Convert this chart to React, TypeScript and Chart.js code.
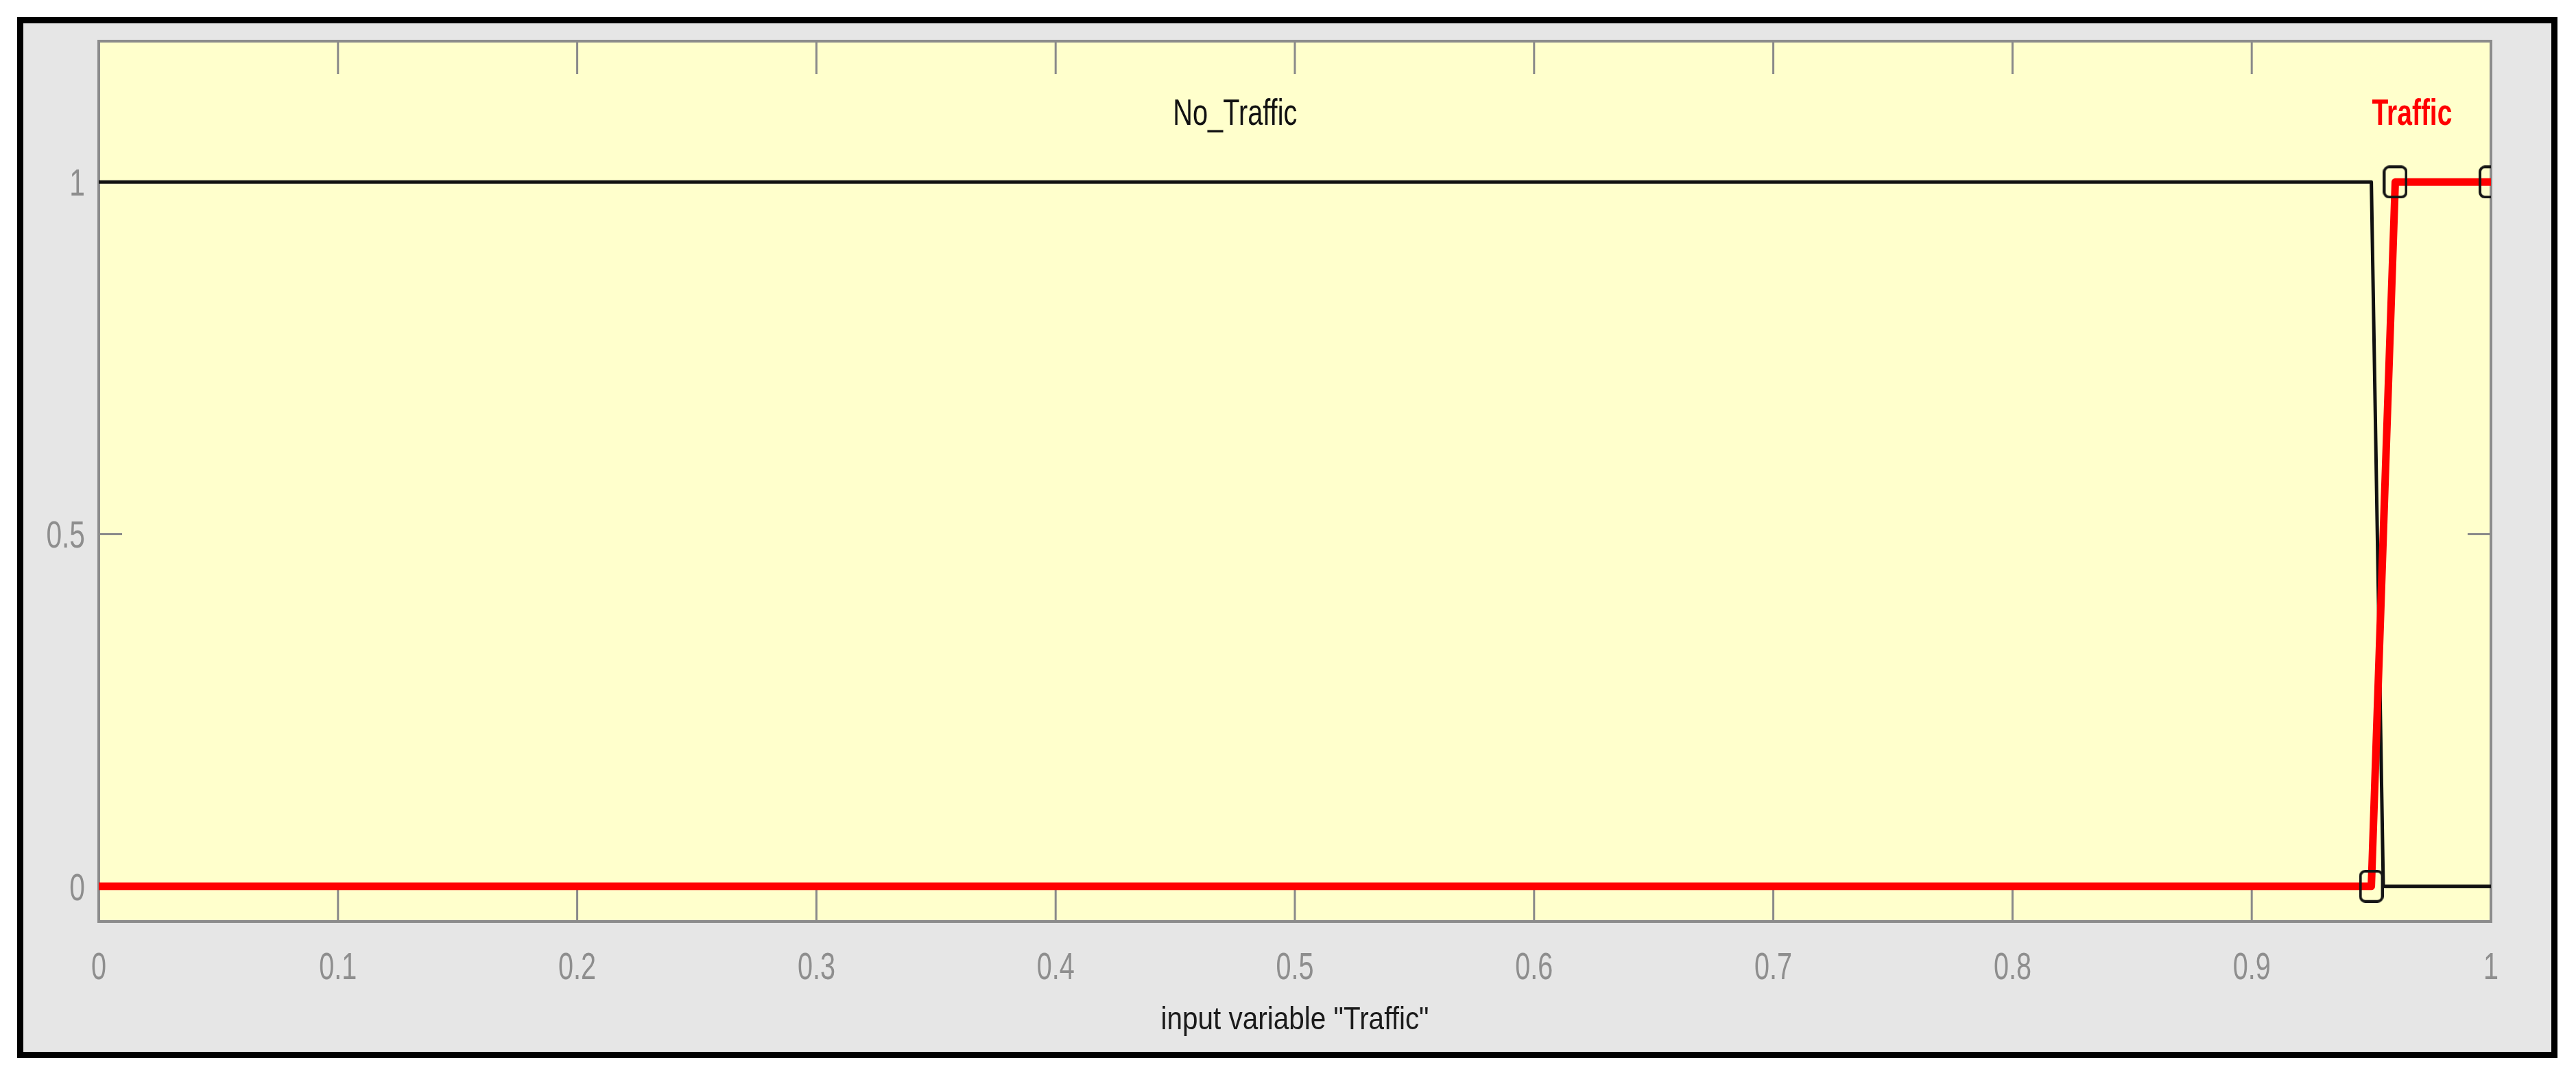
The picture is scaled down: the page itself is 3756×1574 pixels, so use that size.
import React, { useEffect, useRef } from "react";
import { Chart, registerables } from "chart.js";

Chart.register(...registerables);

// ---------- data ----------
const xTicks = [0, 0.1, 0.2, 0.3, 0.4, 0.5, 0.6, 0.7, 0.8, 0.9, 1];
const xTickLabels = ["0", "0.1", "0.2", "0.3", "0.4", "0.5", "0.6", "0.7", "0.8", "0.9", "1"];
const yTicks = [0, 0.5, 1];
const yTickLabels = ["0", "0.5", "1"];
const xRange = [0, 1];
const yRange = [-0.05, 1.2];

const noTrafficX = [0, 0.95, 0.955, 1];
const noTrafficY = [1, 1, 0, 0];
const trafficX = [0, 0.95, 0.96, 1];
const trafficY = [0, 0, 1, 1];
const trafficParams = [0.95, 0.96, 1];

const mfNames = ["No_Traffic", "Traffic"];
const mfLabelX = [0.475, 0.967];
const mfLabelY = [1.1, 1.1];
const xAxisTitle = 'input variable "Traffic"';

// ---------- layout / style ----------
const W = 3756;
const H = 1574;
const FONT = '"Liberation Sans", Arial, Helvetica, sans-serif';

function condensedText(
  ctx: CanvasRenderingContext2D,
  text: string,
  x: number,
  y: number,
  font: string,
  color: string,
  sx: number,
  align: CanvasTextAlign
) {
  ctx.save();
  ctx.font = font;
  ctx.fillStyle = color;
  ctx.textBaseline = "alphabetic";
  ctx.textAlign = align;
  ctx.translate(x, y);
  ctx.scale(sx, 1);
  ctx.fillText(text, 0, 0);
  ctx.restore();
}

function makeMarker(): HTMLCanvasElement {
  const c = document.createElement("canvas");
  c.width = 36;
  c.height = 48;
  const g = c.getContext("2d")!;
  const x = 2, y = 2, w = 32, h = 44, r = 7;
  g.strokeStyle = "#161616";
  g.lineWidth = 4;
  g.beginPath();
  g.moveTo(x + r, y);
  g.arcTo(x + w, y, x + w, y + h, r);
  g.arcTo(x + w, y + h, x, y + h, r);
  g.arcTo(x, y + h, x, y, r);
  g.arcTo(x, y, x + w, y, r);
  g.closePath();
  g.stroke();
  return c;
}

const matlabPlugin = {
  id: "matlabAxes",
  beforeDatasetsDraw(chart: any) {
    const { ctx, chartArea: a } = chart;
    const xs = chart.scales.x;
    const ys = chart.scales.y;
    ctx.save();
    ctx.fillStyle = "#ffffcc";
    ctx.fillRect(a.left, a.top, a.right - a.left, a.bottom - a.top);

    ctx.strokeStyle = "#8a8a8a";
    ctx.lineWidth = 3;
    ctx.beginPath();
    xTicks.forEach((v) => {
      const px = xs.getPixelForValue(v);
      ctx.moveTo(px, a.bottom);
      ctx.lineTo(px, a.bottom - 48);
      ctx.moveTo(px, a.top);
      ctx.lineTo(px, a.top + 48);
    });
    yTicks.forEach((v) => {
      const py = ys.getPixelForValue(v);
      ctx.moveTo(a.left, py);
      ctx.lineTo(a.left + 34, py);
      ctx.moveTo(a.right, py);
      ctx.lineTo(a.right - 34, py);
    });
    ctx.stroke();

    ctx.strokeStyle = "#8c8c8c";
    ctx.lineWidth = 4;
    ctx.strokeRect(a.left, a.top, a.right - a.left, a.bottom - a.top);
    ctx.restore();

    // tick labels
    xTicks.forEach((v, i) => {
      condensedText(ctx, xTickLabels[i], xs.getPixelForValue(v), a.bottom + 84, `55px ${FONT}`, "#8e8e8e", 0.72, "center");
    });
    yTicks.forEach((v, i) => {
      condensedText(ctx, yTickLabels[i], a.left - 20, ys.getPixelForValue(v) + 20, `55px ${FONT}`, "#8e8e8e", 0.74, "right");
    });
    // axis title
    condensedText(ctx, xAxisTitle, (a.left + a.right) / 2, a.bottom + 157, `46px ${FONT}`, "#1a1a1a", 0.88, "center");
  },
  afterDatasetsDraw(chart: any) {
    const { ctx } = chart;
    const xs = chart.scales.x;
    const ys = chart.scales.y;
    mfNames.forEach((name, i) => {
      const selected = i === 1;
      condensedText(
        ctx,
        name,
        xs.getPixelForValue(mfLabelX[i]),
        ys.getPixelForValue(mfLabelY[i]) + 19,
        `${selected ? "bold " : ""}53px ${FONT}`,
        selected ? "#ff0000" : "#111111",
        selected ? 0.735 : 0.75,
        "center"
      );
    });
  },
};

export default function App() {
  const ref = useRef<HTMLCanvasElement | null>(null);

  useEffect(() => {
    if (!ref.current) return;
    const marker = makeMarker();
    const chart = new Chart(ref.current, {
      type: "line",
      data: {
        datasets: [
          {
            label: mfNames[1],
            data: trafficX.map((x, i) => ({ x, y: trafficY[i] })),
            borderColor: "#ff0000",
            borderWidth: 11,
            borderJoinStyle: "round",
            fill: false,
            tension: 0,
            clip: 0,
            pointStyle: marker as any,
            pointRadius: (c: any) => (trafficParams.includes(trafficX[c.dataIndex]) ? 18 : 0),
            pointHoverRadius: 0,
          },
          {
            label: mfNames[0],
            data: noTrafficX.map((x, i) => ({ x, y: noTrafficY[i] })),
            borderColor: "#111111",
            borderWidth: 5,
            borderJoinStyle: "round",
            fill: false,
            tension: 0,
            clip: 0,
            pointRadius: 0,
            pointHoverRadius: 0,
          },
        ],
      },
      options: {
        animation: false,
        responsive: false,
        devicePixelRatio: 1,
        events: [],
        layout: { padding: { left: 144, top: 60, right: W - 3632, bottom: H - 1343 } },
        plugins: {
          legend: { display: false },
          title: { display: false },
          tooltip: { enabled: false },
        },
        scales: {
          x: { type: "linear", min: xRange[0], max: xRange[1], display: false },
          y: { type: "linear", min: yRange[0], max: yRange[1], display: false },
        },
      },
      plugins: [matlabPlugin],
    });
    return () => chart.destroy();
  }, []);

  return (
    <div style={{ position: "absolute", left: 0, top: 0, width: W, height: H, background: "#ffffff", overflow: "hidden" }}>
      <div
        style={{
          position: "absolute",
          left: 25,
          top: 25,
          width: 3729 - 25,
          height: 1542 - 25,
          boxSizing: "border-box",
          border: "9px solid #000",
          background: "#e6e6e6",
        }}
      />
      <canvas
        ref={ref}
        width={W}
        height={H}
        style={{ position: "absolute", left: 0, top: 0, width: W, height: H, display: "block" }}
      />
    </div>
  );
}
